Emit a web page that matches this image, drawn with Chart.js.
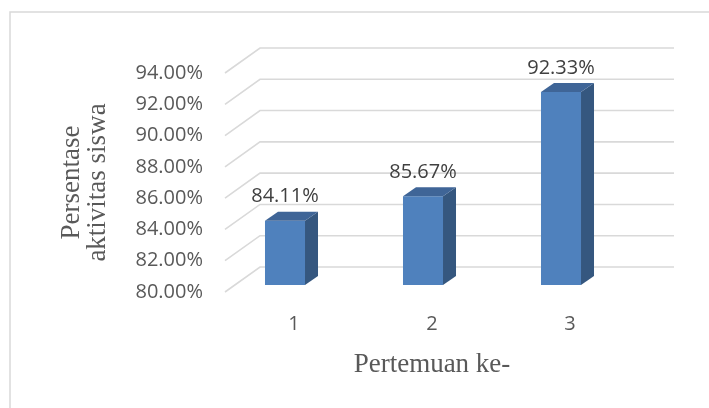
<!DOCTYPE html>
<html><head><meta charset="utf-8">
<script src="https://cdn.jsdelivr.net/npm/chart.js@4/dist/chart.umd.min.js"></script>
<style>html,body{margin:0;padding:0;background:#fff;} canvas{display:block;}</style>
</head><body>
<canvas id="c" width="709" height="408"></canvas>
<script>
const categories = ['1', '2', '3'];
const values = [84.11, 85.67, 92.33];
const valueLabels = ['84.11%', '85.67%', '92.33%'];
const yMin = 80, yMax = 94, yStep = 2;
const xTitle = 'Pertemuan ke-';
const yTitle = ['Persentase', 'aktivitas siswa'];

const BACK = {dx: 35, dy: -25};
const SHIFT = {dx: -9, dy: -7};
const DEPTH = {dx: 13, dy: -9};
const FRONT = '#4F81BD', SIDE = '#35577F', TOP = '#3F6597';
const GRID = '#D9D9D9';
const tickFont = {family: "'Open Sans', sans-serif", size: 20};

const threeD = {
  id: 'threeD',
  beforeDraw(chart) {
    const ctx = chart.ctx;
    ctx.save();
    ctx.strokeStyle = '#D9D9D9';
    ctx.lineWidth = 1.5;
    ctx.strokeRect(10, 12, 720, 420);
    ctx.restore();
  },
  beforeDatasetsDraw(chart) {
    const {ctx, chartArea: a, scales: {y}} = chart;
    ctx.save();
    ctx.strokeStyle = GRID;
    ctx.lineWidth = 1.6;
    for (let v = yMin; v <= yMax; v += yStep) {
      const yf = y.getPixelForValue(v);
      ctx.beginPath();
      ctx.moveTo(a.left, yf);
      ctx.lineTo(a.left + BACK.dx, yf + BACK.dy);
      ctx.lineTo(a.right + BACK.dx, yf + BACK.dy);
      ctx.stroke();
    }
    ctx.restore();
    ctx.save();
    ctx.translate(SHIFT.dx, SHIFT.dy);
  },
  afterDatasetsDraw(chart) {
    const ctx = chart.ctx;
    const y = chart.scales.y;
    const base = y.getPixelForValue(yMin);
    const meta = chart.getDatasetMeta(0);
    meta.data.forEach((bar, i) => {
      const p = bar.getProps(['x', 'y', 'width'], true);
      const l = p.x - p.width / 2, r = p.x + p.width / 2;
      // side face
      ctx.fillStyle = SIDE;
      ctx.beginPath();
      ctx.moveTo(r, p.y);
      ctx.lineTo(r + DEPTH.dx, p.y + DEPTH.dy);
      ctx.lineTo(r + DEPTH.dx, base + DEPTH.dy);
      ctx.lineTo(r, base);
      ctx.closePath();
      ctx.fill();
      // top face
      ctx.fillStyle = TOP;
      ctx.beginPath();
      ctx.moveTo(l, p.y);
      ctx.lineTo(l + DEPTH.dx, p.y + DEPTH.dy);
      ctx.lineTo(r + DEPTH.dx, p.y + DEPTH.dy);
      ctx.lineTo(r, p.y);
      ctx.closePath();
      ctx.fill();
      // data label
      ctx.fillStyle = '#404040';
      ctx.font = `${tickFont.size}px ${tickFont.family}`;
      ctx.textAlign = 'center';
      ctx.textBaseline = 'middle';
      ctx.fillText(valueLabels[i], p.x, p.y - 24);
    });
    ctx.restore();
  }
};

new Chart(document.getElementById('c'), {
  type: 'bar',
  data: {
    labels: categories,
    datasets: [{
      data: values,
      backgroundColor: FRONT,
      borderWidth: 0,
      categoryPercentage: 1,
      barPercentage: 0.29
    }]
  },
  options: {
    responsive: false,
    animation: false,
    devicePixelRatio: 1,
    layout: {padding: {left: 0, top: 73, right: 70, bottom: 0}},
    plugins: {legend: {display: false}, tooltip: {enabled: false}},
    scales: {
      x: {
        grid: {display: false, drawTicks: false},
        border: {display: false},
        ticks: {color: '#595959', font: tickFont, padding: 20},
        title: {display: true, text: xTitle, color: '#595959',
          font: {family: "'Liberation Serif', 'Times New Roman', serif", size: 27, lineHeight: 1.0},
          padding: {top: 0, bottom: 30}},
        afterFit(s) { s.height = 116; }
      },
      y: {
        min: yMin, max: yMax,
        grid: {display: false, drawTicks: false},
        border: {display: false},
        ticks: {stepSize: yStep, color: '#595959', font: tickFont, padding: 22,
          callback: v => Number(v).toFixed(2) + '%'},
        title: {display: true, text: yTitle, color: '#595959',
          font: {family: "'Liberation Serif', 'Times New Roman', serif", size: 27, lineHeight: 0.963},
          padding: {top: 59, bottom: 0}},
        afterFit(s) { s.width = 225; }
      }
    }
  },
  plugins: [threeD]
});
</script>
</body></html>
